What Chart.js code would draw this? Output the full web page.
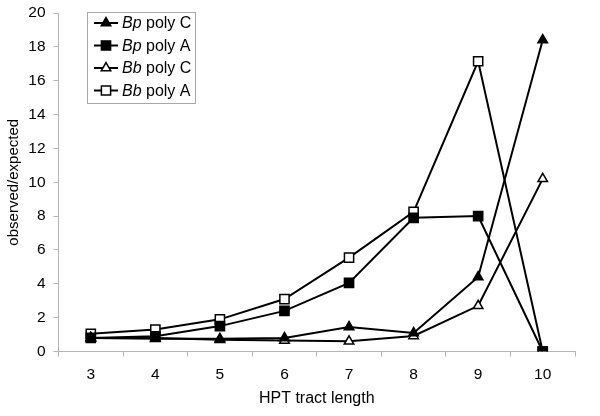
<!DOCTYPE html>
<html>
<head>
<meta charset="utf-8">
<script src="https://cdn.jsdelivr.net/npm/chart.js@4/dist/chart.umd.min.js"></script>
<style>
  html, body { margin: 0; padding: 0; background: #fff; }
  #wrap { width: 600px; height: 416px; }
</style>
</head>
<body>
<div id="wrap"><canvas id="hptChart" width="600" height="416"></canvas></div>
<script>
const categories = ["3", "4", "5", "6", "7", "8", "9", "10"];
const bpPolyC = [0.8, 0.75, 0.75, 0.8, 1.45, 1.1, 4.4, 18.4];
const bpPolyA = [0.8, 0.9, 1.5, 2.4, 4.05, 7.9, 8.0, 0];
const bbPolyC = [0.8, 0.8, 0.7, 0.65, 0.6, 0.92, 2.7, 10.2];
const bbPolyA = [1.05, 1.3, 1.9, 3.1, 5.55, 8.25, 17.15, 0];
const yTicks = [0, 2, 4, 6, 8, 10, 12, 14, 16, 18, 20];
const legendNames = [["Bp", " poly C"], ["Bp", " poly A"], ["Bb", " poly C"], ["Bb", " poly A"]];

const FONT = "'Liberation Sans', Arial, sans-serif";
const axisGray = "#b4b4b4";

// legend drawn by hand: italic genus + plain rest, with line through marker
const legendPlugin = {
  id: "boxLegend",
  afterDraw(chart) {
    const ctx = chart.ctx;
    const x0 = 87, y0 = 12, w = 108, h = 91;
    ctx.save();
    ctx.fillStyle = "#fff";
    ctx.fillRect(x0, y0, w, h);
    ctx.strokeStyle = "#a8a8a8";
    ctx.lineWidth = 1;
    ctx.strokeRect(x0 + 0.5, y0 + 0.5, w, h);
    chart.data.datasets.forEach((ds, i) => {
      const cy = y0 + 11 + i * 22.5;
      ctx.strokeStyle = "#000";
      ctx.lineWidth = 2;
      ctx.beginPath();
      ctx.moveTo(x0 + 7, cy);
      ctx.lineTo(x0 + 31, cy);
      ctx.stroke();
      ctx.fillStyle = ds.pointBackgroundColor;
      ctx.strokeStyle = "#000";
      ctx.lineWidth = 1.5;
      Chart.helpers.drawPoint(ctx, {
        pointStyle: ds.pointStyle,
        radius: ds.pointRadius,
        rotation: 0,
        borderWidth: 1.5
      }, x0 + 19, cy);
      const [it, rest] = legendNames[i];
      ctx.fillStyle = "#000";
      ctx.textBaseline = "middle";
      ctx.font = "italic 16px " + FONT;
      ctx.fillText(it, x0 + 35, cy + 1);
      const iw = ctx.measureText(it).width;
      ctx.font = "16px " + FONT;
      ctx.fillText(rest, x0 + 35 + iw, cy + 1);
    });
    ctx.restore();
  }
};

function series(label, values, style, fill, radius) {
  return {
    label: label,
    data: values,
    borderColor: "#000",
    borderWidth: 2,
    pointStyle: style,
    pointRadius: radius,
    pointHoverRadius: radius,
    pointBackgroundColor: fill,
    pointBorderColor: "#000",
    pointBorderWidth: 1.5,
    fill: false,
    tension: 0
  };
}

new Chart(document.getElementById("hptChart"), {
  type: "line",
  data: {
    labels: categories,
    datasets: [
      series("Bp poly C", bpPolyC, "triangle", "#000", 5.5),
      series("Bp poly A", bpPolyA, "rect", "#000", 6.5),
      series("Bb poly C", bbPolyC, "triangle", "#fff", 5.5),
      series("Bb poly A", bbPolyA, "rect", "#fff", 6.5)
    ]
  },
  options: {
    responsive: false,
    animation: false,
    layout: { padding: { top: 0, right: 25, left: 3, bottom: 8 } },
    plugins: { legend: { display: false }, tooltip: { enabled: false } },
    scales: {
      x: {
        offset: true,
        afterFit(scale) { scale.height = 56.5; },
        grid: { display: true, offset: true, drawOnChartArea: false, drawTicks: true, tickLength: 5, color: axisGray },
        border: { color: axisGray, width: 1 },
        ticks: { color: "#000", font: { family: FONT, size: 15.5 }, padding: 9, maxRotation: 0 },
        title: { display: true, text: "HPT tract length", color: "#000", font: { family: FONT, size: 16 }, padding: { top: 4, bottom: 0 } }
      },
      y: {
        min: 0,
        max: 20,
        afterFit(scale) { scale.width = 55.5; scale.paddingTop = 13; },
        afterBuildTicks(scale) { scale.ticks = yTicks.map(v => ({ value: v })); },
        grid: { display: true, drawOnChartArea: false, drawTicks: true, tickLength: 5, color: axisGray },
        border: { color: axisGray, width: 1 },
        ticks: { color: "#000", font: { family: FONT, size: 15.5 }, padding: 8 },
        title: { display: true, text: "observed/expected", color: "#000", font: { family: FONT, size: 15 }, padding: { top: 2, bottom: 2 } }
      }
    }
  },
  plugins: [legendPlugin]
});
</script>
</body>
</html>
